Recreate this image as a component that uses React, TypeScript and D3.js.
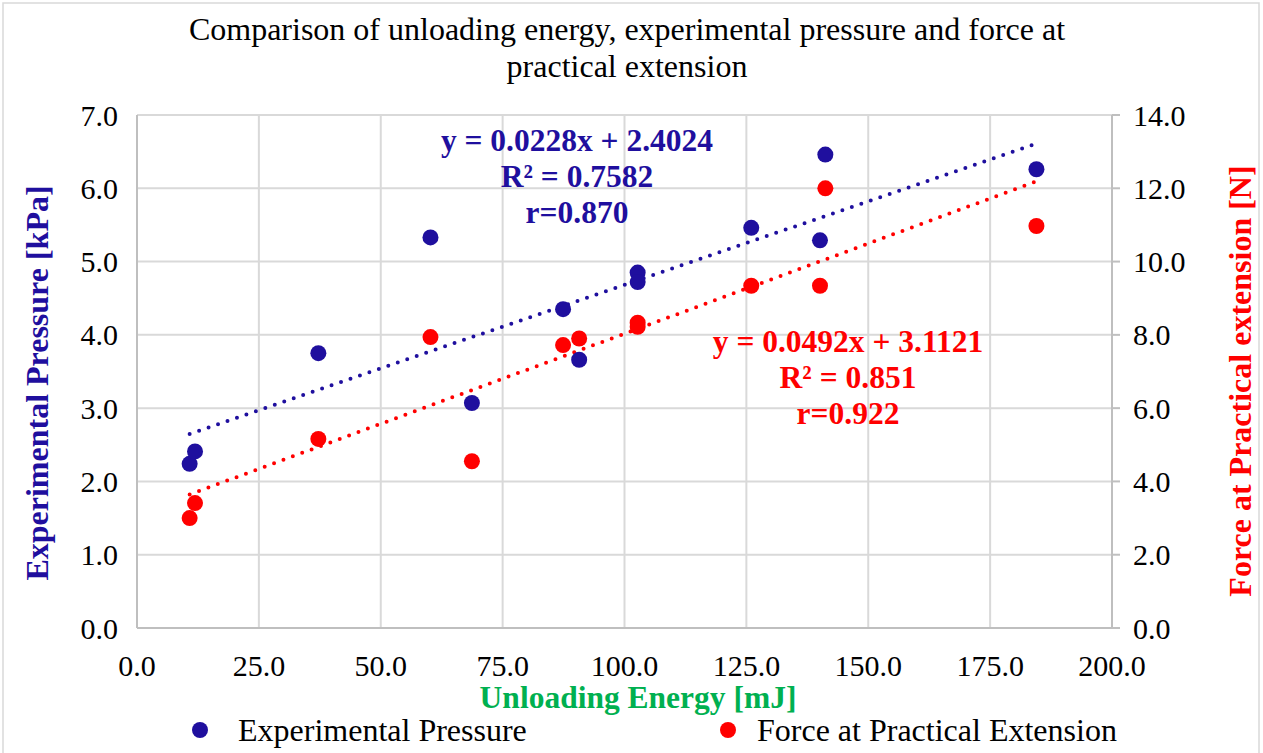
import React from "react";
import * as d3 from "d3";

const energy = [10.8, 11.9, 37.2, 60.2, 68.7, 87.4, 90.7, 102.7, 102.7, 126.0, 140.1, 141.2, 184.5];
const pressure = [2.24, 2.41, 3.75, 5.33, 3.07, 4.35, 3.66, 4.85, 4.72, 5.46, 5.29, 6.46, 6.26];
const force = [3.0, 3.41, 5.16, 7.94, 4.55, 7.72, 7.9, 8.33, 8.22, 9.34, 9.34, 12.0, 10.97];

const xTicks = [0, 25, 50, 75, 100, 125, 150, 175, 200];
const yLeftTicks = [0, 1, 2, 3, 4, 5, 6, 7];
const yRightTicks = [0, 2, 4, 6, 8, 10, 12, 14];

const pressureFit = { slope: 0.0228, intercept: 2.4024 };
const forceFit = { slope: 0.0492, intercept: 3.1121 };

const pressureLabel = ["y = 0.0228x + 2.4024", "R² = 0.7582", "r=0.870"];
const forceLabel = ["y = 0.0492x + 3.1121", "R² = 0.851", "r=0.922"];

const titleLines = [
  "Comparison of unloading energy, experimental pressure and force at",
  "practical extension",
];

const BLUE = "#1F0F9E";
const RED = "#FF0000";
const GREEN = "#00B050";
const FONT = "'Liberation Serif', 'Times New Roman', serif";

export default function App() {
  const W = 1263, H = 753;
  const left = 137, right = 1112, top = 115, bottom = 628;
  const x = d3.scaleLinear().domain([0, 200]).range([left, right]);
  const yL = d3.scaleLinear().domain([0, 7]).range([bottom, top]);
  const yR = d3.scaleLinear().domain([0, 14]).range([bottom, top]);

  const xMin = d3.min(energy) as number;
  const xMax = d3.max(energy) as number;
  const line = d3.line<[number, number]>();
  const pLine = line([
    [x(xMin), yL(pressureFit.slope * xMin + pressureFit.intercept)],
    [x(xMax), yL(pressureFit.slope * xMax + pressureFit.intercept)],
  ]) as string;
  const fLine = line([
    [x(xMin), yR(forceFit.slope * xMin + forceFit.intercept)],
    [x(xMax), yR(forceFit.slope * xMax + forceFit.intercept)],
  ]) as string;

  const tickFs = 30;
  const labFs = 32;

  return (
    <svg width={W} height={H} style={{ position: "absolute", left: 0, top: 0, background: "#fff" }} fontFamily={FONT}>
      <rect x={3} y={3} width={1256} height={770} fill="#fff" stroke="#d9d9d9" strokeWidth={1.5} />
      {titleLines.map((t, i) => (
        <text key={i} x={627} y={40 + i * 37} textAnchor="middle" fontSize={32} fill="#000">{t}</text>
      ))}
      {/* grid */}
      {yLeftTicks.map((t) => (
        <line key={"h" + t} x1={left} x2={right} y1={yL(t)} y2={yL(t)} stroke="#d9d9d9" strokeWidth={2} />
      ))}
      {xTicks.map((t) => (
        <line key={"v" + t} x1={x(t)} x2={x(t)} y1={top} y2={bottom} stroke="#d9d9d9" strokeWidth={2} />
      ))}
      {/* axes */}
      <line x1={left} x2={left} y1={top} y2={bottom} stroke="#bfbfbf" strokeWidth={2} />
      <line x1={left} x2={right} y1={bottom} y2={bottom} stroke="#bfbfbf" strokeWidth={2} />
      <line x1={right} x2={right} y1={top} y2={bottom} stroke="#bfbfbf" strokeWidth={2} />
      {yRightTicks.map((t) => (
        <line key={"rt" + t} x1={right} x2={right + 8} y1={yR(t)} y2={yR(t)} stroke="#bfbfbf" strokeWidth={2} />
      ))}
      {/* tick labels */}
      {yLeftTicks.map((t) => (
        <text key={"yl" + t} x={118} y={yL(t)} dy="0.35em" textAnchor="end" fontSize={tickFs} fill="#000">{t.toFixed(1)}</text>
      ))}
      {yRightTicks.map((t) => (
        <text key={"yr" + t} x={1133} y={yR(t)} dy="0.35em" textAnchor="start" fontSize={tickFs} fill="#000">{t.toFixed(1)}</text>
      ))}
      {xTicks.map((t) => (
        <text key={"xl" + t} x={x(t)} y={665} dy="0.35em" textAnchor="middle" fontSize={tickFs} fill="#000">{t.toFixed(1)}</text>
      ))}
      {/* axis titles */}
      <text x={638} y={697} dy="0.35em" textAnchor="middle" fontSize={31.5} fontWeight="bold" fill={GREEN}>Unloading Energy [mJ]</text>
      <text transform={`translate(37,383) rotate(-90)`} dy="0.35em" textAnchor="middle" fontSize={labFs} fontWeight="bold" fill={BLUE}>Experimental Pressure [kPa]</text>
      <text transform={`translate(1240,381) rotate(-90)`} dy="0.35em" textAnchor="middle" fontSize={labFs} fontWeight="bold" fill={RED}>Force at Practical extension [N]</text>
      {/* trendlines */}
      <path d={pLine} stroke={BLUE} strokeWidth={4} strokeDasharray="0 10" strokeLinecap="round" fill="none" />
      <path d={fLine} stroke={RED} strokeWidth={4} strokeDasharray="0 10" strokeLinecap="round" fill="none" />
      {/* points */}
      {energy.map((e, i) => (
        <circle key={"p" + i} cx={x(e)} cy={yL(pressure[i])} r={8} fill={BLUE} />
      ))}
      {energy.map((e, i) => (
        <circle key={"f" + i} cx={x(e)} cy={yR(force[i])} r={8} fill={RED} />
      ))}
      {/* equations */}
      {pressureLabel.map((t, i) => (
        <text key={"pl" + i} x={577} y={151 + i * 36} textAnchor="middle" fontSize={31.5} fontWeight="bold" fill={BLUE}>{t}</text>
      ))}
      {forceLabel.map((t, i) => (
        <text key={"fl" + i} x={848} y={352 + i * 36} textAnchor="middle" fontSize={31.5} fontWeight="bold" fill={RED}>{t}</text>
      ))}
      {/* legend */}
      <circle cx={200} cy={730} r={8} fill={BLUE} />
      <text x={238} y={730} dy="0.35em" fontSize={labFs} fill="#000">Experimental Pressure</text>
      <circle cx={728} cy={730} r={8} fill={RED} />
      <text x={757} y={730} dy="0.35em" fontSize={labFs} fill="#000">Force at Practical Extension</text>
    </svg>
  );
}
